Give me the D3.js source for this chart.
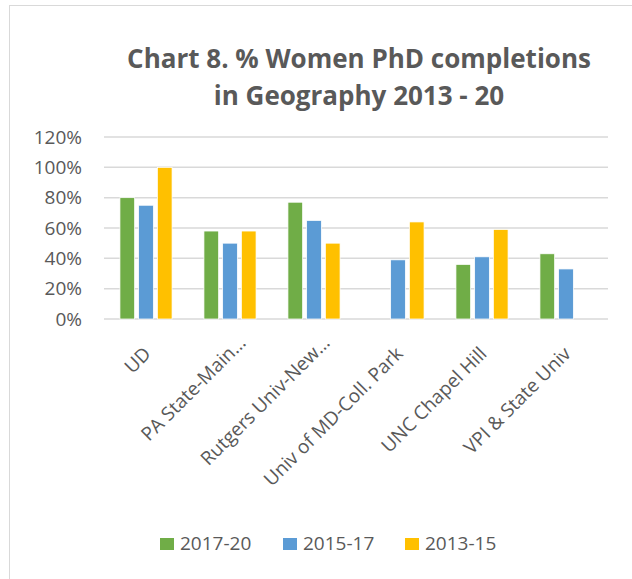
<!DOCTYPE html>
<html>
<head>
<meta charset="utf-8">
<script src="https://cdn.jsdelivr.net/npm/d3@7"></script>
<style>
  body { margin: 0; background: #fff; }
  text { font-family: "Open Sans", sans-serif; fill: #595959; }
</style>
</head>
<body>
<div id="root"></div>
<script>
// chart data
const schools = ['UD', 'PA State-Main…', 'Rutgers Univ-New…', 'Univ of MD-Coll. Park', 'UNC Chapel Hill', 'VPI & State Univ'];
const series = ['2017-20', '2015-17', '2013-15'];
const v2017 = [80, 58, 77, null, 36, 43];
const v2015 = [75, 50, 65, 39, 41, 33];
const v2013 = [100, 58, 50, 64, 59, null];
const yTicks = [0, 20, 40, 60, 80, 100, 120];
const colors = ['#70AD47', '#5B9BD5', '#FFC000'];

const W = 632, H = 579;
const plot = { left: 104, right: 608, top: 137, bottom: 319 };

const svg = d3.select('#root').append('svg')
  .attr('width', W)
  .attr('height', H);

// outer chart border
svg.append('rect')
  .attr('x', 9.5).attr('y', 5.5)
  .attr('width', W).attr('height', H)
  .attr('fill', 'none')
  .attr('stroke', '#D9D9D9');

// title
const title = ['Chart 8. % Women PhD completions', 'in Geography 2013 - 20'];
svg.append('g').selectAll('text').data(title)
  .enter().append('text')
    .attr('x', 359)
    .attr('y', (d, i) => 68 + i * 37)
    .attr('text-anchor', 'middle')
    .attr('font-size', '26px')
    .attr('font-weight', 'bold')
    .text((d) => d);

const y = d3.scaleLinear()
  .domain([0, 120])
  .range([plot.bottom, plot.top]);

const x = d3.scaleBand()
  .domain(schools)
  .range([plot.left, plot.right]);

const x1 = d3.scaleBand()
  .domain(series)
  .range([0, x.bandwidth()])
  .paddingInner(0.214)
  .paddingOuter(0.852);

// gridlines
svg.append('g').selectAll('line').data(yTicks)
  .enter().append('line')
    .attr('x1', plot.left).attr('x2', plot.right)
    .attr('y1', (d) => y(d)).attr('y2', (d) => y(d))
    .attr('stroke', '#D9D9D9')
    .attr('stroke-width', 1.5);

// y axis labels
const yAxis = d3.axisLeft(y)
  .tickValues(yTicks)
  .tickSize(0)
  .tickPadding(0)
  .tickFormat((d) => d + '%');

svg.append('g')
  .attr('transform', 'translate(82, 0)')
  .call(yAxis)
  .call((g) => g.select('.domain').remove())
  .selectAll('text')
    .attr('font-size', '19px')
    .attr('font-family', null)
    .attr('fill', null);

// x axis labels, rotated; truncated labels sit a little further along
const xAxis = d3.axisBottom(x).tickSize(0).tickPadding(0);
svg.append('g')
  .attr('transform', `translate(0, ${plot.bottom})`)
  .call(xAxis)
  .call((g) => g.select('.domain').remove())
  .selectAll('text')
    .attr('font-size', '19px')
    .attr('font-family', null)
    .attr('fill', null)
    .attr('text-anchor', 'end')
    .attr('dy', null)
    .attr('y', 0)
    .attr('transform', (d) => d.endsWith('…')
      ? 'translate(17, 25) rotate(-45)'
      : 'translate(6, 36) rotate(-45)');

// bars
const valueSets = [v2017, v2015, v2013];
const rows = [];
schools.forEach((s, i) => {
  series.forEach((k, j) => {
    if (valueSets[j][i] != null) rows.push({ school: s, key: k, value: valueSets[j][i], c: colors[j] });
  });
});

svg.append('g').selectAll('rect').data(rows)
  .enter().append('rect')
    .attr('x', (d) => x(d.school) + x1(d.key))
    .attr('y', (d) => y(d.value))
    .attr('width', x1.bandwidth())
    .attr('height', (d) => y(0) - y(d.value))
    .attr('fill', (d) => d.c)
    .attr('stroke', '#fff')
    .attr('stroke-width', 0.75);

// legend
const legendX = [160, 283, 405];
const legend = svg.append('g').selectAll('g').data(series)
  .enter().append('g')
    .attr('transform', (d, i) => `translate(${legendX[i]}, 538)`);

legend.append('rect')
  .attr('width', 14).attr('height', 12)
  .attr('fill', (d, i) => colors[i]);

legend.append('text')
  .attr('x', 20).attr('y', 12)
  .attr('font-size', '19px')
  .text((d) => d);
</script>
</body>
</html>
